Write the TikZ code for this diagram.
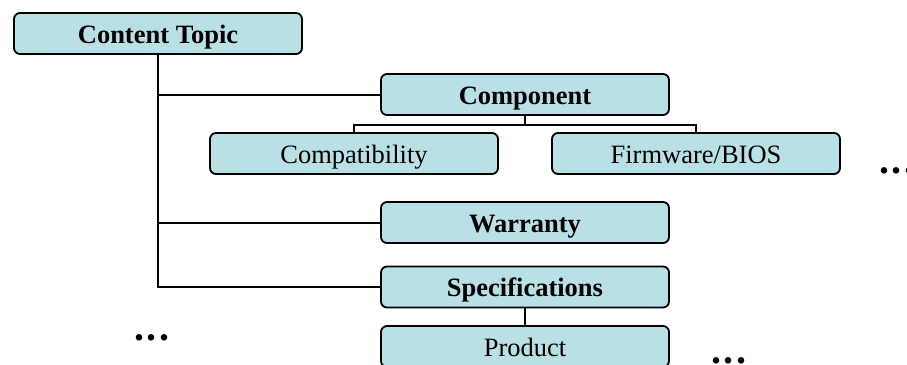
\documentclass[tikz,border=0pt]{standalone}
\usepackage{fontspec}
\setmainfont{Liberation Serif}
\definecolor{boxfill}{RGB}{185,224,228}

\begin{document}
\begin{tikzpicture}[x=1pt, y=-1pt,
  box/.style={draw=black, line width=1.8pt, rounded corners=6pt, fill=boxfill,
    minimum width=288pt, minimum height=41pt, inner sep=0pt,
    text height=21pt, text depth=2pt,
    font=\fontsize{26.5}{30}\selectfont},
  head/.style={box, font=\fontsize{26.5}{30}\selectfont\bfseries},
  link/.style={draw=black, line width=2pt},
  sublink/.style={draw=black, line width=1.4pt},
  more/.style={inner sep=0pt, font=\fontsize{40}{44}\selectfont\bfseries}
]
  \useasboundingbox (0,0) rectangle (907,364);

  \node[head] (topic)  at (158, 33.5)  {Content Topic};
  \node[head] (comp)   at (525, 94.5)  {Component};
  \node[box]  (compat) at (354, 153.5) {Compatibility};
  \node[box]  (firm)   at (696, 153.5) {Firmware/BIOS};
  \node[head] (warr)   at (525, 222.5) {Warranty};
  \node[head] (spec)   at (525, 287)   {Specifications};
  \node[box]  (prod)   at (525, 346.5) {Product};

  % main branches
  \draw[link] (topic.south) |- (comp.west);
  \draw[link] (topic.south) |- (warr.west);
  \draw[link] (topic.south) |- (spec.west);

  % sub branches
  \draw[sublink] (comp.south) -- ++(0,9) coordinate (fork);
  \draw[sublink] (compat.north) |- (fork) -| (firm.north);
  \draw[sublink] (spec.south) -- (prod.north);

  \newcommand\moredots{.\kern2.5pt.\kern2.5pt.}
  \node[more] (dotsr) at (897, 171) {\moredots};
  \node[more] (dotsl) at (152, 338) {\moredots};
  \node[more] (dotsb) at (729, 361) {\moredots};
\end{tikzpicture}
\end{document}
